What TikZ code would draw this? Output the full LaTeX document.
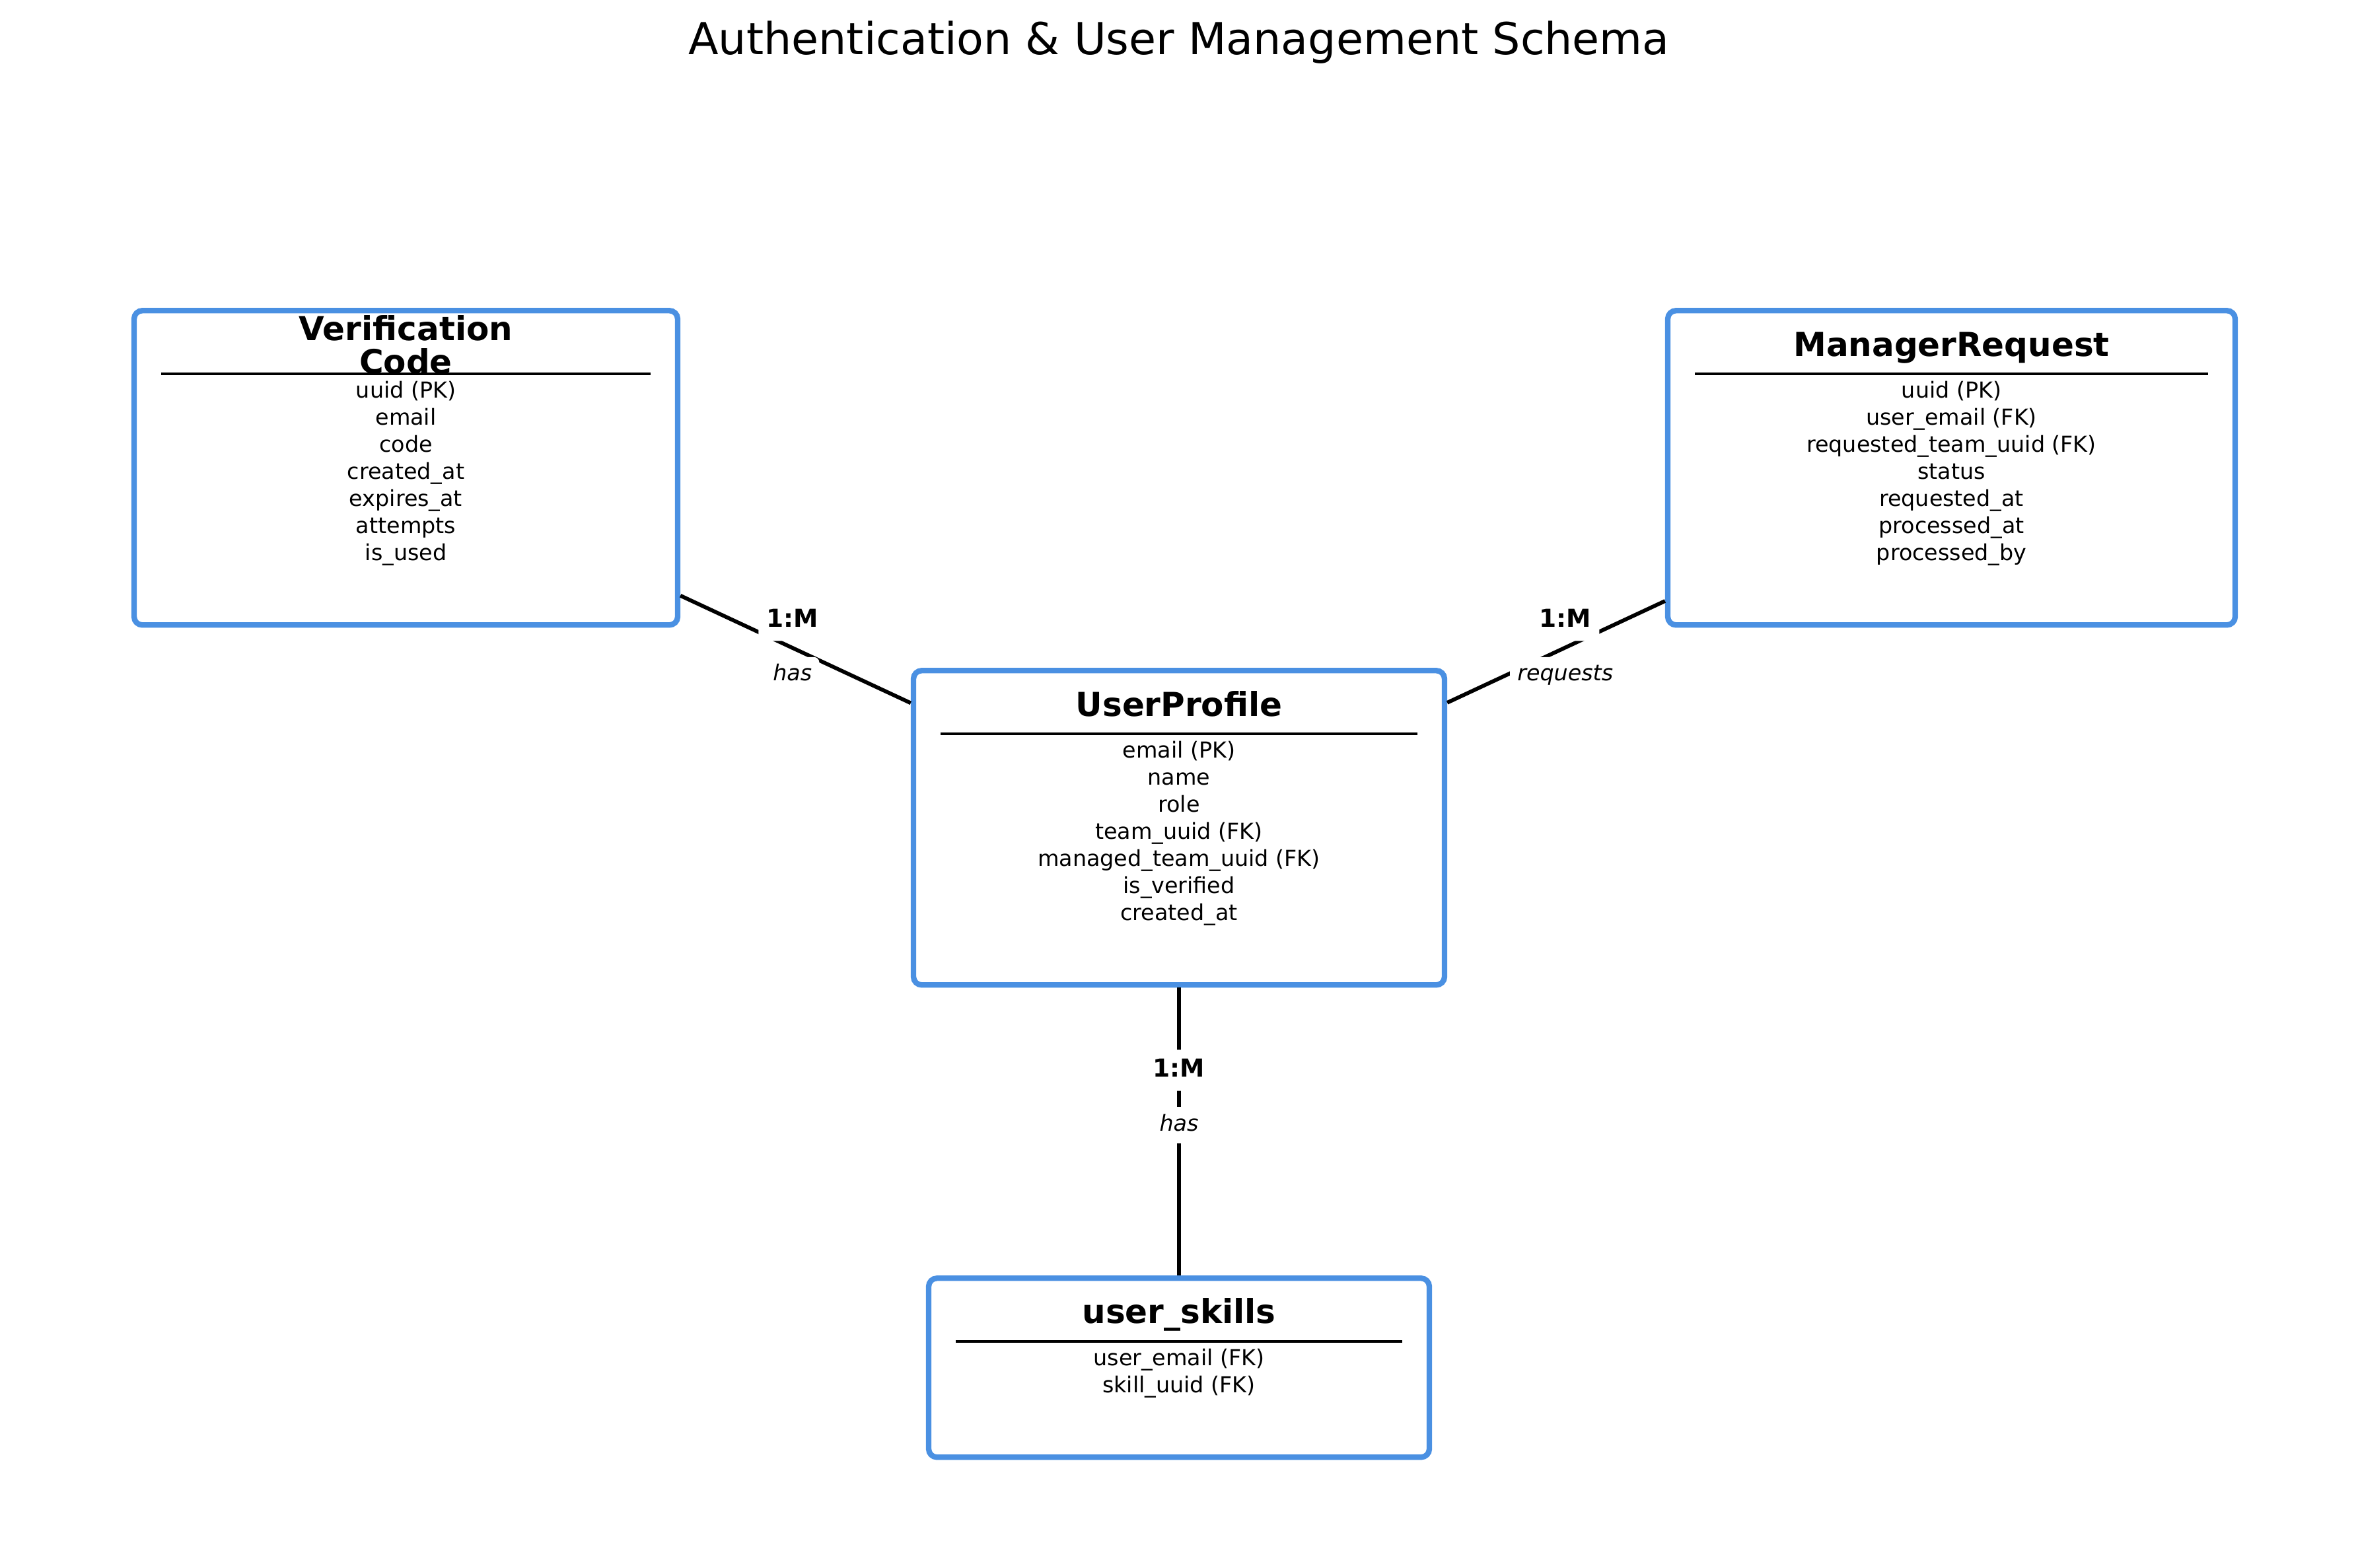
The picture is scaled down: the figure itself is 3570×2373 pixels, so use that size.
\documentclass[tikz,border=0pt]{standalone}
\usepackage{fontspec}
\setmainfont{DejaVu Sans}
\usetikzlibrary{calc}
\definecolor{boxblue}{HTML}{4A90E2}
\begin{document}
\begin{tikzpicture}[x=0.24pt,y=-0.24pt,
  entity/.style={draw=boxblue, line width=2pt, fill=white, rounded corners=3pt, inner sep=0pt, minimum height=114.24pt},
  etitle/.style={font=\fontsize{12}{14}\selectfont\bfseries, anchor=base, inner sep=0pt},
  field/.style={font=\fontsize{8}{9.8}\selectfont, anchor=base, inner sep=0pt},
  hline/.style={line width=1pt},
  conn/.style={line width=1.4pt},
  card/.style={fill=white, rounded corners=2pt, font=\fontsize{9}{11}\selectfont\bfseries, inner xsep=2.95pt, inner ysep=2.95pt, text height=6.84pt, text depth=2.16pt},
  verb/.style={fill=white, rounded corners=2pt, font=\fontsize{8}{10}\selectfont\itshape, inner xsep=2.7pt, inner ysep=2.6pt, text height=6.08pt, text depth=1.92pt}]
\useasboundingbox (0,0) rectangle (3570,2373);

\node[font=\fontsize{16}{19}\selectfont, anchor=base, inner sep=0pt] (title) at (1785,82) {Authentication \& User Management Schema};

% entities
\node[entity, minimum width=197.52pt] (vc) at (614.5,708.25) {};
\node[entity, minimum width=206.16pt] (mr) at (2954.5,708.25) {};
\node[entity, minimum width=192.96pt] (up) at (1785,1253.25) {};
\node[entity, minimum width=181.92pt, minimum height=65.04pt] (us) at (1785,2070.75) {};

% header rules
\foreach \b in {vc,mr,up,us}
  \draw[hline] ($(\b.north west)+(45,99.5)$) -- ($(\b.north east)+(-45,99.5)$);

% titles
\node[etitle, anchor=south, align=center, font=\fontsize{12}{12}\selectfont\bfseries] (vct) at ($(vc.north)+(0,100.5)$) {Verification\\Code};
\node[etitle] (mrt) at ($(mr.north)+(0,73.5)$) {ManagerRequest};
\node[etitle] (upt) at ($(up.north)+(0,73.5)$) {UserProfile};
\node[etitle] (ust) at ($(us.north)+(0,72)$) {user\_skills};

% fields
\foreach \t [count=\i from 0] in {uuid (PK), email, code, created\_at, expires\_at, attempts, is\_used}
  \node[field] (vcf\i) at ($(vc.north)+(0,{136.5+40.9*\i})$) {\t};
\foreach \t [count=\i from 0] in {uuid (PK), user\_email (FK), requested\_team\_uuid (FK), status, requested\_at, processed\_at, processed\_by}
  \node[field] (mrf\i) at ($(mr.north)+(0,{136.5+40.9*\i})$) {\t};
\foreach \t [count=\i from 0] in {email (PK), name, role, team\_uuid (FK), managed\_team\_uuid (FK), is\_verified, created\_at}
  \node[field] (upf\i) at ($(up.north)+(0,{136.5+40.9*\i})$) {\t};
\foreach \t [count=\i from 0] in {user\_email (FK), skill\_uuid (FK)}
  \node[field] (usf\i) at ($(us.north)+(0,{136.5+40.9*\i})$) {\t};

% connectors
\draw[conn] (vc) -- (up);
\draw[conn] (up) -- (mr);
\draw[conn] (up) -- (us);

% labels
\coordinate (m1) at ($(vc.center)!0.5!(up.center)$);
\coordinate (m2) at ($(up.center)!0.5!(mr.center)$);
\coordinate (m3) at ($(up.center)!0.5!(us.center)$);
\node[card] (c1) at ($(m1)+(0,-41.5)$) {1:M};
\node[verb] (v1) at ($(m1)+(0,41.5)$) {has};
\node[card] (c2) at ($(m2)+(0,-41.5)$) {1:M};
\node[verb] (v2) at ($(m2)+(0,41.5)$) {requests};
\node[card] (c3) at ($(m3)+(0,-41.5)$) {1:M};
\node[verb] (v3) at ($(m3)+(0,41.5)$) {has};
\end{tikzpicture}
\end{document}
